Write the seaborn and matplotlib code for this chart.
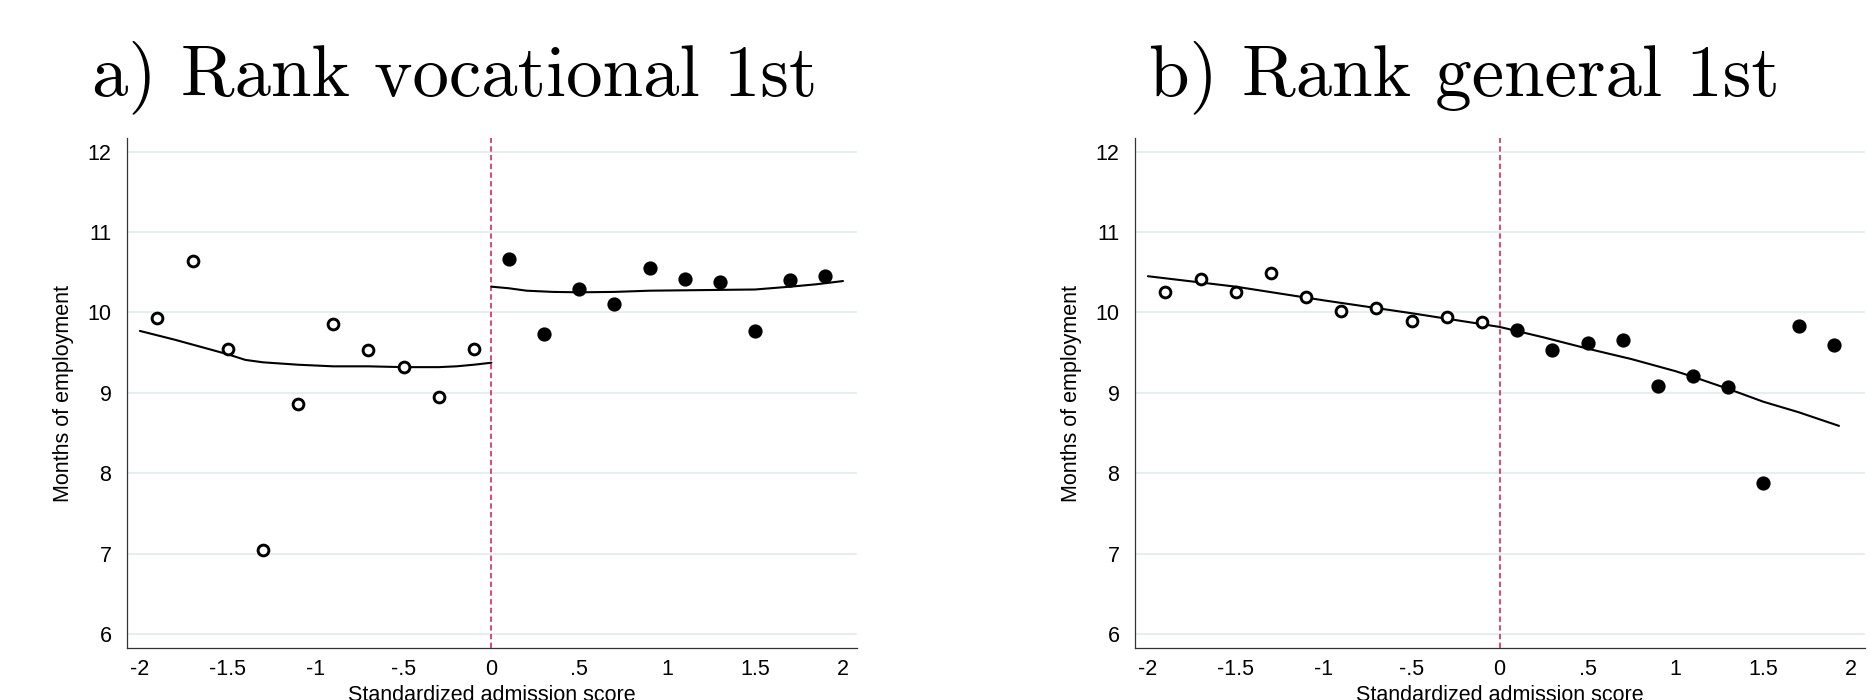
import numpy as np
import pandas as pd
import matplotlib
matplotlib.use('Agg')
import matplotlib.pyplot as plt
import seaborn as sns

# bin midpoints of the standardized admission score
score_bins = [-1.9, -1.7, -1.5, -1.3, -1.1, -0.9, -0.7, -0.5, -0.3, -0.1,
              0.1, 0.3, 0.5, 0.7, 0.9, 1.1, 1.3, 1.5, 1.7, 1.9]

# binned means, months of employment
voc_means = [9.93, 10.64, 9.55, 7.05, 8.86, 9.85, 9.53, 9.32, 8.95, 9.55,
             10.66, 9.73, 10.29, 10.11, 10.55, 10.41, 10.38, 9.77, 10.40, 10.45]
gen_means = [10.26, 10.41, 10.26, 10.49, 10.19, 10.02, 10.05, 9.89, 9.94, 9.88,
             9.78, 9.53, 9.62, 9.66, 9.08, 9.21, 9.07, 7.88, 9.83, 9.60]

# fitted lines
voc_fit_left_x = [-2.0, -1.8, -1.6, -1.5, -1.4, -1.3, -1.1, -0.9, -0.7, -0.5, -0.3, -0.2, -0.1, 0.0]
voc_fit_left_y = [9.77, 9.66, 9.54, 9.48, 9.41, 9.38, 9.35, 9.33, 9.33, 9.32, 9.32, 9.33, 9.35, 9.375]
voc_fit_right_x = [0.0, 0.1, 0.2, 0.35, 0.5, 0.7, 0.9, 1.1, 1.3, 1.5, 1.7, 1.85, 2.0]
voc_fit_right_y = [10.32, 10.30, 10.27, 10.255, 10.25, 10.255, 10.27, 10.275, 10.28, 10.285, 10.32, 10.35, 10.39]
gen_fit_x = [-2.0, -1.5, -1.0, -0.5, 0.0, 0.25, 0.5, 0.75, 1.0, 1.1, 1.3, 1.5, 1.7, 1.93]
gen_fit_y = [10.45, 10.32, 10.15, 9.99, 9.82, 9.69, 9.55, 9.42, 9.27, 9.20, 9.05, 8.89, 8.76, 8.59]

x_ticks = [-2, -1.5, -1, -0.5, 0, 0.5, 1, 1.5, 2]
x_ticklabels = ['-2', '-1.5', '-1', '-.5', '0', '.5', '1', '1.5', '2']
y_ticks = [6, 7, 8, 9, 10, 11, 12]

titles = ['a) Rank vocational 1st', 'b) Rank general 1st']

sns.set_style('white')
plt.rcParams['font.family'] = ['Liberation Sans', 'DejaVu Sans']
plt.rcParams['text.color'] = 'black'
plt.rcParams['axes.labelcolor'] = 'black'

fig = plt.figure(figsize=(18.7, 7), dpi=100)
ax1 = fig.add_axes([0.06775, 0.07471, 0.39038, 0.72771])
ax2 = fig.add_axes([0.60679, 0.07471, 0.39054, 0.72771])

grid_color = '#E6EEF1'
red = '#D21A45'


def draw_panel(ax, means, fits):
    df = pd.DataFrame({'score': score_bins, 'months': means})
    df['side'] = np.where(df['score'] < 0, 'below', 'above')
    for yt in y_ticks:
        ax.axhline(yt, color=grid_color, lw=1.4, zorder=0)
    ax.axvline(0, color=red, lw=1.1, ls=(0, (3.5, 2.2)), zorder=1)
    for fx, fy in fits:
        sns.lineplot(x=fx, y=fy, ax=ax, color='black', lw=1.5, zorder=2)
    below = df[df['side'] == 'below']
    above = df[df['side'] == 'above']
    sns.scatterplot(data=below, x='score', y='months', ax=ax, s=60,
                    facecolor='white', edgecolor='black', linewidth=2.1, zorder=3)
    sns.scatterplot(data=above, x='score', y='months', ax=ax, s=105,
                    color='black', linewidth=0, zorder=3)
    ax.set_xlim(-2.075, 2.078)
    ax.set_ylim(5.833, 12.164)
    ax.set_xticks(x_ticks, x_ticklabels)
    ax.set_yticks(y_ticks)
    ax.tick_params(axis='both', direction='out', length=6.5, width=0.8,
                   color='#333333', labelsize=15.5, labelcolor='black')
    ax.tick_params(axis='x', pad=1.5)
    ax.tick_params(axis='y', pad=4.5)
    for side in ['top', 'right']:
        ax.spines[side].set_visible(False)
    for side in ['left', 'bottom']:
        ax.spines[side].set_color('#333333')
        ax.spines[side].set_linewidth(0.9)
    ax.set_xlabel('Standardized admission score', fontsize=15.5, labelpad=4)
    ax.set_ylabel('Months of employment', fontsize=15.5, labelpad=10)


draw_panel(ax1, voc_means, [(voc_fit_left_x, voc_fit_left_y),
                            (voc_fit_right_x, voc_fit_right_y)])
draw_panel(ax2, gen_means, [(gen_fit_x, gen_fit_y)])

fig.text(0.2433, 0.864, titles[0], family='cmr10', fontsize=52.5,
         color='black', ha='center', va='baseline')
fig.text(0.783, 0.864, titles[1], family='cmr10', fontsize=52.5,
         color='black', ha='center', va='baseline')

fig.savefig('out.png', dpi=100, facecolor='white')
